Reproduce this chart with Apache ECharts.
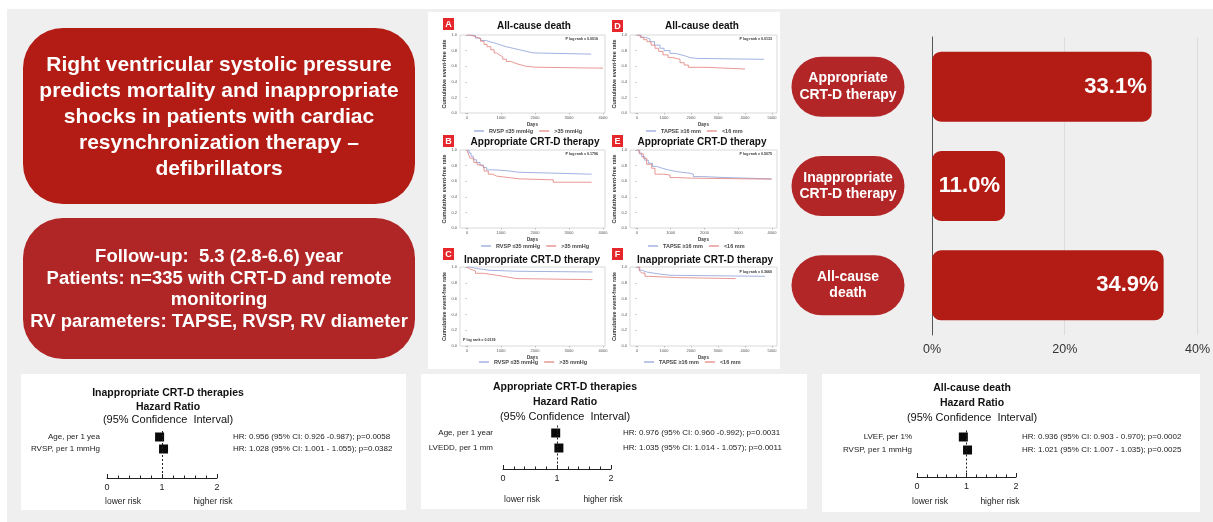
<!DOCTYPE html>
<html><head><meta charset="utf-8">
<script src="https://cdn.jsdelivr.net/npm/echarts@6/dist/echarts.min.js"></script>
<style>html,body{margin:0;padding:0;background:#fff}#c{width:1213px;height:522px}</style>
</head><body><div id="c"></div>
<script>
// ---------------- DATA ----------------
const barCategories = ['Appropriate\nCRT-D therapy', 'Inappropriate\nCRT-D therapy', 'All-cause\ndeath'];
const barValues = [33.1, 11.0, 34.9];
const barTicks = [0, 20, 40];

const rvspNames = ['RVSP \u226435 mmHg', '>35 mmHg'];
const tapseNames = ['TAPSE \u226516 mm', '<16 mm'];

// Kaplan-Meier curves: [days, event-free rate]
const kmA_rvspLow = [[0,1],[100,0.99],[250,0.96],[400,0.93],[550,0.91],[700,0.89],[870,0.87],[1000,0.85],[1150,0.83],[1350,0.81],[1550,0.79],[1750,0.77],[1950,0.755],[3650,0.755]];
const kmA_rvspHigh = [[0,1],[80,0.985],[200,0.97],[294,0.955],[400,0.92],[500,0.88],[588,0.85],[700,0.81],[800,0.77],[873,0.745],[950,0.72],[1050,0.69],[1157,0.66],[1300,0.635],[1441,0.615],[1600,0.6],[1725,0.587],[2000,0.575],[4000,0.575]];
const kmD_tapseHigh = [[0,1],[150,0.97],[300,0.95],[481,0.915],[650,0.87],[852,0.83],[1000,0.8],[1222,0.765],[1400,0.75],[1593,0.73],[1800,0.71],[1963,0.7],[2210,0.688],[4700,0.688]];
const kmD_tapseLow = [[0,1],[120,0.97],[250,0.94],[370,0.914],[520,0.87],[667,0.83],[800,0.79],[963,0.745],[1150,0.71],[1333,0.688],[1593,0.645],[1750,0.615],[1900,0.586],[2518,0.564],[4000,0.564]];
const kmB_rvspLow = [[0,1],[60,0.96],[120,0.92],[186,0.875],[280,0.84],[381,0.808],[480,0.775],[578,0.745],[800,0.735],[1166,0.715],[1510,0.69],[3667,0.69]];
const kmB_rvspHigh = [[0,1],[40,0.95],[88,0.895],[200,0.84],[300,0.81],[381,0.787],[500,0.73],[627,0.69],[750,0.665],[872,0.647],[1215,0.63],[1559,0.617],[2539,0.587],[3667,0.587]];
const kmE_tapseHigh = [[0,1],[60,0.96],[138,0.915],[230,0.87],[336,0.83],[460,0.79],[583,0.766],[750,0.745],[928,0.723],[1175,0.702],[1570,0.69],[1669,0.659],[1965,0.647],[2607,0.63],[3990,0.63]];
const kmE_tapseLow = [[0,1],[80,0.95],[187,0.894],[286,0.817],[434,0.766],[533,0.69],[780,0.68],[977,0.647],[1175,0.639],[1619,0.626],[3990,0.626]];
const kmC_rvspLow = [[0,1],[88,0.98],[286,0.958],[681,0.946],[1500,0.937],[3690,0.937]];
const kmC_rvspHigh = [[0,1],[40,0.975],[88,0.95],[250,0.92],[483,0.895],[878,0.874],[1174,0.853],[1470,0.84],[3690,0.84]];
const kmF_tapseHigh = [[0,1],[80,0.96],[173,0.937],[358,0.916],[728,0.895],[1222,0.882],[4750,0.882]];
const kmF_tapseLow = [[0,1],[100,0.95],[173,0.924],[296,0.882],[420,0.866],[1469,0.853],[3650,0.853]];
const kmTicks4000 = [0, 1000, 2000, 3000, 4000];
const kmTicks5000 = [0, 1000, 2000, 3000, 4000, 5000];
const kmYTicks = [0, 0.2, 0.4, 0.6, 0.8, 1.0];
const kmPValues = ['0.0016', '0.1796', '0.0139', '0.0133', '0.5075', '0.3660'];

// Forest plots
const forest1Labels = ['Age, per 1 yea', 'RVSP, per 1 mmHg'];
const forest1HR = [0.956, 1.028];
const forest1Lo = [0.926, 1.001];
const forest1Hi = [0.987, 1.055];
const forest1Text = ['HR: 0.956 (95% CI: 0.926 -0.987); p=0.0058', 'HR: 1.028 (95% CI: 1.001 - 1.055); p=0.0382'];
const forest2Labels = ['Age, per 1 year', 'LVEDD, per 1 mm'];
const forest2HR = [0.976, 1.035];
const forest2Lo = [0.960, 1.014];
const forest2Hi = [0.992, 1.057];
const forest2Text = ['HR: 0.976 (95% CI: 0.960 -0.992); p=0.0031', 'HR: 1.035 (95% CI: 1.014 - 1.057); p=0.0011'];
const forest3Labels = ['LVEF, per 1%', 'RVSP, per 1 mmHg'];
const forest3HR = [0.936, 1.021];
const forest3Lo = [0.903, 1.007];
const forest3Hi = [0.970, 1.035];
const forest3Text = ['HR: 0.936 (95% CI: 0.903 - 0.970); p=0.0002', 'HR: 1.021 (95% CI: 1.007 - 1.035); p=0.0025'];
const forestTicks = [0, 1, 2];

// ---------------- CHART ----------------
const FONT = '"Liberation Sans", Arial, Helvetica, sans-serif';
const BLUE = '#8c9ed8', RED = '#e27d79';
const chart = echarts.init(document.getElementById('c'), null, {renderer: 'canvas', width: 1213, height: 522});

const grid = [], xAxis = [], yAxis = [], series = [], legend = [], graphic = [];

function txt(text, x, y, font, fill, align, z) {
  graphic.push({type: 'text', z: z || 100, silent: true,
    style: {text: text, x: x, y: y, font: font, fill: fill || '#222', textAlign: align || 'center', textVerticalAlign: 'middle'}});
}
function rect(x, y, w, h, fill, r, z) {
  graphic.push({type: 'rect', z: z == null ? -100 : z, silent: true, shape: {x: x, y: y, width: w, height: h, r: r || 0}, style: {fill: fill}});
}

// backgrounds
rect(7, 9, 1206, 513, '#efefef', 0, -200);
rect(428, 12, 352, 357, '#ffffff', 0, -150);
rect(21, 374, 385, 136, '#ffffff', 0, -150);
rect(421, 374, 386, 135, '#ffffff', 0, -150);
rect(822, 374, 378, 138, '#ffffff', 0, -150);

// red boxes with text
rect(23, 28, 392, 176, '#b31c15', 40, -90);
rect(23, 218, 392, 141, '#b02526', 40, -90);
['Right ventricular systolic pressure', 'predicts mortality and inappropriate', 'shocks in patients with cardiac',
 'resynchronization therapy \u2013', 'defibrillators'].forEach((l, i) =>
  txt(l, 219, 65 + i * 26, 'bold 21px ' + FONT, '#ffffff'));
['Follow-up:  5.3 (2.8-6.6) year', 'Patients: n=335 with CRT-D and remote', 'monitoring',
 'RV parameters: TAPSE, RVSP, RV diameter'].forEach((l, i) =>
  txt(l, 219, 257 + i * 21.7, 'bold 18.5px ' + FONT, '#ffffff'));

// ---------- KM panels ----------
const kmPanels = [
  {badge: 'A', title: 'All-cause death', g: [460, 35, 145, 78], x: [-206, 4059], ticks: kmTicks4000, s: [kmA_rvspLow, kmA_rvspHigh], names: rvspNames,
   tc: [534, 26], bx: [443, 18], leg: [474, 128], p: kmPValues[0], pp: [598, 39, 'right'], gap: 9},
  {badge: 'B', title: 'Appropriate CRT-D therapy', g: [460, 150, 145, 78], x: [-206, 4059], ticks: kmTicks4000, s: [kmB_rvspLow, kmB_rvspHigh], names: rvspNames,
   tc: [535, 142], bx: [443, 135], leg: [481, 243], p: kmPValues[1], pp: [598, 154, 'right'], gap: 9},
  {badge: 'C', title: 'Inappropriate CRT-D therapy', g: [460, 267, 145, 79], x: [-206, 4059], ticks: kmTicks4000, s: [kmC_rvspLow, kmC_rvspHigh], names: rvspNames,
   tc: [532, 260], bx: [443, 248], leg: [479, 359], p: kmPValues[2], pp: [463, 340, 'left'], gap: 9},
  {badge: 'D', title: 'All-cause death', g: [630, 35, 147, 78], x: [-259, 5185], ticks: kmTicks5000, s: [kmD_tapseHigh, kmD_tapseLow], names: tapseNames,
   tc: [702, 26], bx: [612, 20], leg: [646, 128], p: kmPValues[3], pp: [772, 39, 'right'], gap: 12},
  {badge: 'E', title: 'Appropriate CRT-D therapy', g: [630, 150, 147, 78], x: [-207, 4148], ticks: kmTicks4000, s: [kmE_tapseHigh, kmE_tapseLow], names: tapseNames,
   tc: [702, 142], bx: [612, 135], leg: [648, 243], p: kmPValues[4], pp: [772, 154, 'right'], gap: 12},
  {badge: 'F', title: 'Inappropriate CRT-D therapy', g: [630, 267, 147, 79], x: [-259, 5185], ticks: kmTicks5000, s: [kmF_tapseHigh, kmF_tapseLow], names: tapseNames,
   tc: [705, 260], bx: [612, 248], leg: [644, 359], p: kmPValues[5], pp: [772, 272, 'right'], gap: 12}
];

kmPanels.forEach((k) => {
  const gi = grid.length;
  grid.push({left: k.g[0], top: k.g[1], width: k.g[2], height: k.g[3], show: true, borderColor: '#cfcfcf', borderWidth: 0.8, backgroundColor: 'transparent'});
  xAxis.push({type: 'value', gridIndex: gi, min: k.x[0], max: k.x[1], name: 'Days', nameLocation: 'middle', nameGap: 9,
    nameTextStyle: {fontSize: 4.5, fontWeight: 'bold', color: '#333', fontFamily: FONT},
    axisLine: {show: false}, splitLine: {show: false},
    axisTick: {show: true, customValues: k.ticks, length: 1.5, lineStyle: {color: '#999', width: 0.6}},
    axisLabel: {customValues: k.ticks, fontSize: 4, color: '#555', margin: 3, fontFamily: FONT, formatter: v => String(Math.round(v))}});
  yAxis.push({type: 'value', gridIndex: gi, min: 0, max: 1, name: 'Cumulative event-free rate', nameLocation: 'middle', nameGap: k.gap,
    nameTextStyle: {fontSize: 5.5, fontWeight: 'bold', color: '#333', fontFamily: FONT},
    axisLine: {show: false}, splitLine: {show: false},
    axisTick: {show: true, customValues: kmYTicks, length: 1.5, lineStyle: {color: '#999', width: 0.6}},
    axisLabel: {customValues: kmYTicks, fontSize: 4, color: '#555', margin: 3, fontFamily: FONT, formatter: v => v.toFixed(1)}});
  [BLUE, RED].forEach((col, j) => {
    series.push({type: 'line', name: k.names[j], xAxisIndex: gi, yAxisIndex: gi, step: 'end', showSymbol: false, symbol: 'none',
      data: k.s[j], lineStyle: {color: col, width: 0.8}, itemStyle: {color: col}, silent: true, z: 3});
  });
  legend.push({data: k.names, left: k.leg[0], top: k.leg[1], icon: 'rect', itemWidth: 10, itemHeight: 1.2, itemGap: 6, selectedMode: false,
    padding: 0, textStyle: {fontSize: 5.5, fontWeight: 'bold', color: '#444', fontFamily: FONT}});
  txt(k.title, k.tc[0], k.tc[1], 'bold 10px ' + FONT, '#111');
  rect(k.bx[0], k.bx[1], 11, 12, '#e5262b', 0, 50);
  txt(k.badge, k.bx[0] + 5.5, k.bx[1] + 6.5, 'bold 9px ' + FONT, '#ffffff', 'center', 101);
  txt('P log rank = ' + k.p, k.pp[0], k.pp[1], 'bold 3.6px ' + FONT, '#333', k.pp[2]);
});

// ---------- Bar chart ----------
const bgi = grid.length;
grid.push({left: 932, top: 37, width: 269, height: 298});
xAxis.push({type: 'value', gridIndex: bgi, min: 0, max: 40, interval: 20,
  axisLine: {show: false}, axisTick: {show: false},
  splitLine: {show: true, lineStyle: {color: '#dcdcdc', width: 1}},
  axisLabel: {formatter: '{value}%', fontSize: 12.5, color: '#333', margin: 8, fontFamily: FONT, customValues: barTicks}});
yAxis.push({type: 'category', gridIndex: bgi, data: barCategories, inverse: true,
  axisLine: {show: true, lineStyle: {color: '#555', width: 1}}, axisTick: {show: false},
  axisLabel: {color: '#fff', fontSize: 14, fontWeight: 'bold', fontFamily: FONT, lineHeight: 16.5,
    backgroundColor: '#b22627', borderRadius: 30, width: 113, padding: [13.5, 0, 13.5, 0], align: 'center', margin: 84}});
series.push({type: 'bar', xAxisIndex: bgi, yAxisIndex: bgi, data: barValues, barWidth: 70,
  itemStyle: {color: '#b31c15', borderRadius: 9}, silent: true,
  label: {show: true, position: 'insideRight', distance: 5, color: '#fff', fontSize: 22, fontWeight: 'bold', fontFamily: FONT,
    formatter: p => p.value.toFixed(1) + '%'}});

// ---------- Forest plots ----------
const forests = [
  {labels: forest1Labels, hr: forest1HR, lo: forest1Lo, hi: forest1Hi, text: forest1Text, g: [107, 431, 110, 47], ymax: 4.417, lm: 7, rm: 16,
   title: ['Inappropriate CRT-D therapies', 'Hazard Ratio'], cx: 168, ty: [393, 407, 420], risk: [123, 213, 502]},
  {labels: forest2Labels, hr: forest2HR, lo: forest2Lo, hi: forest2Hi, text: forest2Text, g: [503, 425.5, 108, 43.5], ymax: 3.4, lm: 10, rm: 12,
   title: ['Appropriate CRT-D therapies', 'Hazard Ratio'], cx: 565, ty: [387, 402, 417], risk: [522, 603, 500]},
  {labels: forest3Labels, hr: forest3HR, lo: forest3Lo, hi: forest3Hi, text: forest3Text, g: [917, 430.5, 99, 46.5], ymax: 4.077, lm: 5, rm: 6,
   title: ['All-cause death', 'Hazard Ratio'], cx: 972, ty: [388, 403, 418], risk: [930, 1000, 502]}
];
forests.forEach((f) => {
  const gi = grid.length;
  grid.push({left: f.g[0], top: f.g[1], width: f.g[2], height: f.g[3]});
  const xi = xAxis.length;
  xAxis.push({type: 'value', gridIndex: gi, min: 0, max: 2, interval: 1,
    axisLine: {show: true, onZero: false, lineStyle: {color: '#222', width: 1}},
    axisTick: {show: true, inside: true, length: 4, lineStyle: {color: '#222'}},
    minorTick: {show: true, splitNumber: 5, length: 2.5, lineStyle: {color: '#222'}},
    splitLine: {show: false},
    axisLabel: {fontSize: 9, color: '#222', margin: 5, fontFamily: FONT, customValues: forestTicks}});
  const rows = f.labels.map((_, i) => i + 1);
  const yl = yAxis.length;
  yAxis.push({type: 'value', gridIndex: gi, min: 0.5, max: f.ymax, inverse: true, position: 'left',
    axisLine: {show: false}, axisTick: {show: false}, splitLine: {show: false},
    axisLabel: {customValues: rows, fontSize: 8, color: '#222', margin: f.lm, fontFamily: FONT,
      formatter: v => f.labels[Math.round(v) - 1] || ''}});
  yAxis.push({type: 'value', gridIndex: gi, min: 0.5, max: f.ymax, inverse: true, position: 'right',
    axisLine: {show: false}, axisTick: {show: false}, splitLine: {show: false},
    axisLabel: {customValues: rows, fontSize: 8, color: '#222', margin: f.rm, fontFamily: FONT,
      formatter: v => f.text[Math.round(v) - 1] || ''}});
  series.push({type: 'custom', xAxisIndex: xi, yAxisIndex: yl, silent: true, z: 3,
    data: f.hr.map((_, i) => [f.lo[i], f.hi[i], i + 1]),
    renderItem: (params, api) => {
      const a = api.coord([api.value(0), api.value(2)]);
      const b = api.coord([api.value(1), api.value(2)]);
      return {type: 'line', shape: {x1: a[0], y1: a[1], x2: b[0], y2: b[1]}, style: {stroke: '#000', lineWidth: 1}};
    }});
  series.push({type: 'scatter', xAxisIndex: xi, yAxisIndex: yl, silent: true, z: 4,
    data: f.hr.map((v, i) => [v, i + 1]), symbol: 'rect', symbolSize: 9, itemStyle: {color: '#0a0a0a', opacity: 1},
    markLine: {silent: true, symbol: ['none', 'none'], label: {show: false}, animation: false,
      lineStyle: {type: [2, 2], color: '#222', width: 1}, data: [{xAxis: 1}]}});
  txt(f.title[0], f.cx, f.ty[0], 'bold 10.5px ' + FONT, '#111');
  txt(f.title[1], f.cx, f.ty[1], 'bold 10.5px ' + FONT, '#111');
  txt('(95% Confidence  Interval)', f.cx, f.ty[2], '11px ' + FONT, '#111');
  txt('lower risk', f.risk[0], f.risk[2], '8.5px ' + FONT, '#222');
  txt('higher risk', f.risk[1], f.risk[2], '8.5px ' + FONT, '#222');
});

chart.setOption({
  animation: false,
  backgroundColor: '#ffffff',
  textStyle: {fontFamily: FONT},
  grid: grid, xAxis: xAxis, yAxis: yAxis, series: series, legend: legend, graphic: graphic
});
</script>
</body></html>
